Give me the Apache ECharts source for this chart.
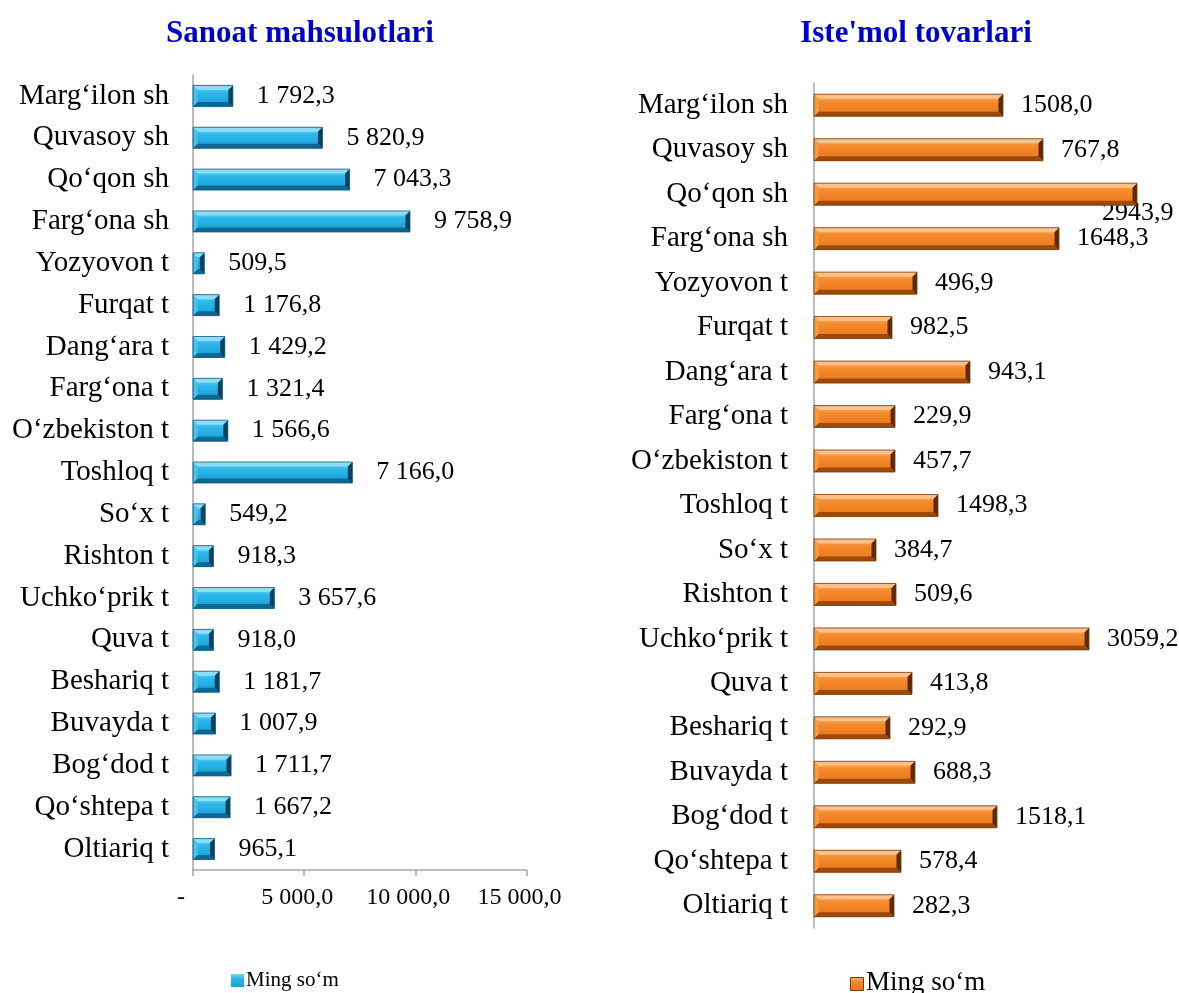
<!DOCTYPE html>
<html>
<head>
<meta charset="utf-8">
<script src="https://cdn.jsdelivr.net/npm/echarts@6/dist/echarts.min.js"></script>
<style>
html,body{margin:0;padding:0;background:#fff;}
#chart{width:1179px;height:993px;}
</style>
</head>
<body>
<div id="chart"></div>
<script>
// Categories (top to bottom)
const categories = ["Marg‘ilon sh","Quvasoy sh","Qo‘qon sh","Farg‘ona sh","Yozyovon t","Furqat t","Dang‘ara t","Farg‘ona t","O‘zbekiston t","Toshloq t","So‘x t","Rishton t","Uchko‘prik t","Quva t","Beshariq t","Buvayda t","Bog‘dod t","Qo‘shtepa t","Oltiariq t"];
// Sanoat mahsulotlari (ming so'm)
const industryValues = [1792.3,5820.9,7043.3,9758.9,509.5,1176.8,1429.2,1321.4,1566.6,7166.0,549.2,918.3,3657.6,918.0,1181.7,1007.9,1711.7,1667.2,965.1];
// Iste'mol tovarlari: printed label values
const consumerValues = [1508.0,767.8,2943.9,1648.3,496.9,982.5,943.1,229.9,457.7,1498.3,384.7,509.6,3059.2,413.8,292.9,688.3,1518.1,578.4,282.3];
// Iste'mol tovarlari: bar lengths as drawn in the picture (relative units)
const consumerBarLengths = [1890,2290,3230,2450,1030,780,1560,810,810,1240,620,820,2750,980,760,1010,1830,870,800];
const industryTicks = [0,5000,10000,15000];
const titles = ["Sanoat mahsulotlari","Iste'mol tovarlari"];
const legendName = "Ming so‘m";

function fmtSpace(v){
  if (v === 0) return "{d|-}";
  const s = v.toFixed(1);
  let [i,d] = s.split(".");
  i = i.replace(/\B(?=(\d{3})+(?!\d))/g, " ");
  return i + "," + d;
}
function fmtPlain(v){ return v.toFixed(1).replace(".", ","); }

const G = echarts.graphic.LinearGradient;
const blueFace = new G(0,0,0,1,[
  {offset:0,color:'#7AD6F4'},{offset:0.35,color:'#2DB8EA'},{offset:1,color:'#169DD3'}]);
const orangeFace = new G(0,0,0,1,[
  {offset:0,color:'#FBB06A'},{offset:0.35,color:'#F48A2A'},{offset:1,color:'#E9761A'}]);
const blueBevel = {top:'#8EDDF6', left:'#4CC0E8', bottom:'#0B6892', right:'#08405E', edge:'#0A5A80'};
const orangeBevel = {top:'#FCC088', left:'#F69B45', bottom:'#9C4A0C', right:'#5E2A06', edge:'#7A3A08'};

const labelFont = {fontFamily:'Liberation Serif', fontSize:26, color:'#000'};
const catFont = {fontFamily:'Liberation Serif', fontSize:29, color:'#000'};

const qoqonIdx = categories.indexOf("Qo‘qon sh");
const consumerData = consumerBarLengths.map((v,i)=>{
  const item = {value:v, labelText: fmtPlain(consumerValues[i])};
  if (i === qoqonIdx) item.label = {offset:[-53,19]};
  return item;
});

function bevelRenderer(barH, pal){
  return function(params, api){
    const v = api.value(0), idx = api.value(1);
    const p0 = api.coord([0, idx]), p1 = api.coord([v, idx]);
    const x0 = p0[0], x1 = p1[0], yc = p0[1];
    const y0 = yc - barH/2, y1 = yc + barH/2;
    const b = Math.min(4.5, (x1-x0)/2, barH/2);
    const poly = (pts, fill) => ({type:'polygon', shape:{points:pts}, style:{fill:fill}, silent:true});
    return {type:'group', children:[
      poly([[x0,y0],[x1,y0],[x1-b,y0+b],[x0+b,y0+b]], pal.top),
      poly([[x0,y1],[x1,y1],[x1-b,y1-b],[x0+b,y1-b]], pal.bottom),
      poly([[x0,y0],[x0+b,y0+b],[x0+b,y1-b],[x0,y1]], pal.left),
      poly([[x1,y0],[x1-b,y0+b],[x1-b,y1-b],[x1,y1]], pal.right),
      {type:'rect', shape:{x:x0,y:y0,width:x1-x0,height:barH}, style:{fill:'none', stroke:pal.edge, lineWidth:0.8}, silent:true}
    ]};
  };
}

const chart = echarts.init(document.getElementById('chart'));
chart.setOption({
  animation:false,
  title:[
    {text:titles[0], left:295, top:13, textAlign:'center',
     textStyle:{fontFamily:'Liberation Serif', fontWeight:'bold', fontSize:31, color:'#0000CC'}},
    {text:titles[1], left:911, top:13, textAlign:'center',
     textStyle:{fontFamily:'Liberation Serif', fontWeight:'bold', fontSize:31, color:'#0000CC'}}
  ],
  legend:[
    {left:226, top:965, itemWidth:13, itemHeight:13, itemGap:4, icon:'rect', data:[{name:legendName}],
     textStyle:{fontFamily:'Liberation Serif', fontSize:21, color:'#000', padding:[0,0,0,-3]},
     selectedMode:false}
  ],
  grid:[
    {left:193, top:75, width:333.5, height:795},
    {left:814, top:83, width:350, height:845}
  ],
  xAxis:[
    {gridIndex:0, type:'value', min:0, max:15000, interval:5000,
     splitLine:{show:false},
     axisLine:{show:true, lineStyle:{color:'#A6A6A6', width:1.5}},
     axisTick:{show:true, length:6, lineStyle:{color:'#A6A6A6', width:1.5}},
     axisLabel:{fontFamily:'Liberation Serif', fontSize:24, color:'#000', margin:16,
       formatter:v=>fmtSpace(v), padding:[0,14,0,0],
       rich:{d:{fontFamily:'Liberation Serif', fontSize:24, color:'#000', padding:[0,10,0,0]}}}},
    {gridIndex:1, type:'value', min:0, max:3500, show:false, splitLine:{show:false}}
  ],
  yAxis:[
    {gridIndex:0, type:'category', data:categories, inverse:true,
     axisLine:{lineStyle:{color:'#A6A6A6', width:1.5}},
     axisTick:{length:7, lineStyle:{color:'#A6A6A6', width:1.5}},
     axisLabel:{...catFont, margin:24}},
    {gridIndex:1, type:'category', data:categories, inverse:true,
     axisLine:{lineStyle:{color:'#A6A6A6', width:1.5}},
     axisTick:{length:8, lineStyle:{color:'#A6A6A6', width:1.5}},
     axisLabel:{...catFont, margin:26}}
  ],
  series:[
    {name:legendName, type:'bar', xAxisIndex:0, yAxisIndex:0, data:industryValues,
     barWidth:21, itemStyle:{color:blueFace},
     label:{show:true, position:'right', distance:24, ...labelFont, formatter:p=>fmtSpace(p.value)}},
    {name:'consumer', type:'bar', xAxisIndex:1, yAxisIndex:1, data:consumerData,
     barWidth:22, itemStyle:{color:orangeFace},
     label:{show:true, position:'right', distance:18, ...labelFont, formatter:p=>p.data.labelText}},
    {name:'bevel1', type:'custom', xAxisIndex:0, yAxisIndex:0, silent:true, z:3,
     data:industryValues.map((v,i)=>[v,i]), encode:{x:0,y:1},
     renderItem:bevelRenderer(21, blueBevel)},
    {name:'bevel2', type:'custom', xAxisIndex:1, yAxisIndex:1, silent:true, z:3,
     data:consumerBarLengths.map((v,i)=>[v,i]), encode:{x:0,y:1},
     renderItem:bevelRenderer(22, orangeBevel)}
  ],
  graphic:[
    {type:'rect', left:850, top:977, shape:{width:13,height:13}, style:{fill:orangeFace, stroke:'#7A3A08', lineWidth:1}},
    {type:'text', left:866, top:969, style:{text:legendName, font:'27px "Liberation Serif"', fill:'#000'}}
  ]
});
</script>
</body>
</html>
